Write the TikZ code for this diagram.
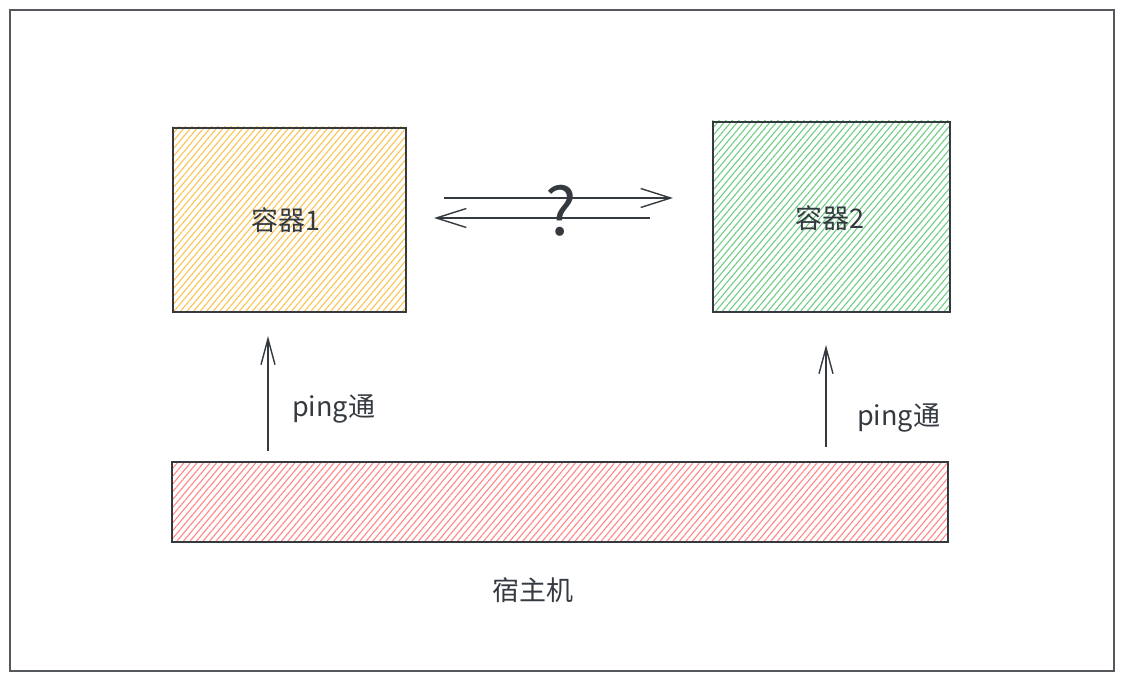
\documentclass[tikz,border=0pt]{standalone}
\usepackage{fontspec}
\setmainfont{Noto Sans CJK SC}
\usetikzlibrary{arrows.meta,patterns.meta}
\definecolor{ink}{HTML}{343A40}
\definecolor{frame}{HTML}{55595E}
\definecolor{hyel}{RGB}{250,196,80}
\definecolor{hgrn}{RGB}{110,205,130}
\definecolor{hred}{RGB}{255,135,135}
\tikzset{
  box/.style={draw=ink, line width=1.9pt},
  hatch/.style={pattern={Lines[angle=50,distance=5pt,line width=1.1pt]}, pattern color=#1},
  lbl/.style={text=ink, font=\fontsize{27}{30}\selectfont, inner sep=0pt},
  harrow/.style={draw=ink, line width=1.4pt, -{Straight Barb[length=30pt,width=19pt,line width=1.4pt]}},
  varrow/.style={draw=ink, line width=1.4pt, -{Straight Barb[length=26pt,width=14pt,line width=1.4pt]}},
}
\begin{document}
\begin{tikzpicture}[x=1pt,y=-1pt]
\useasboundingbox (0,0) rectangle (1124,682);
\draw[frame, line width=1.8pt] (10,10) rectangle (1114,671);
% container 1
\path[hatch=hyel] (172,127) rectangle (405,311);
\node[box, minimum width=233pt, minimum height=184pt, anchor=north west, inner sep=0pt] (c1) at (172,127) {};
\node[lbl] (t1) at (286,220) {容器1};
% container 2
\path[hatch=hgrn] (712,121) rectangle (949,311);
\node[box, minimum width=237pt, minimum height=190pt, anchor=north west, inner sep=0pt] (c2) at (712,121) {};
\node[lbl] (t2) at (830,218) {容器2};
% host
\path[hatch=hred] (171,461) rectangle (947,541);
\node[box, minimum width=776pt, minimum height=80pt, anchor=north west, inner sep=0pt] (host) at (171,461) {};
\node[lbl] (th) at (533,590) {宿主机};
% horizontal arrows
\coordinate (a1s) at (444,198);
\coordinate (a1e) at (673,198);
\coordinate (a2s) at (650,218);
\coordinate (a2e) at (434,218);
\draw[harrow] (a1s) -- (a1e);
\draw[harrow] (a2s) -- (a2e);
\node[text=ink, font=\fontsize{66}{66}\selectfont, inner sep=0pt] (q) at (561,211) {?};
% vertical arrows
\coordinate (v1s) at (268,451);
\coordinate (v1e) at (268,336);
\coordinate (v2s) at (826,447);
\coordinate (v2e) at (826,345);
\draw[varrow] (v1s) -- (v1e);
\draw[varrow] (v2s) -- (v2e);
\node[lbl, anchor=west] (p1) at (292,409) {ping通};
\node[lbl, anchor=west] (p2) at (857,418) {ping通};
\end{tikzpicture}
\end{document}
